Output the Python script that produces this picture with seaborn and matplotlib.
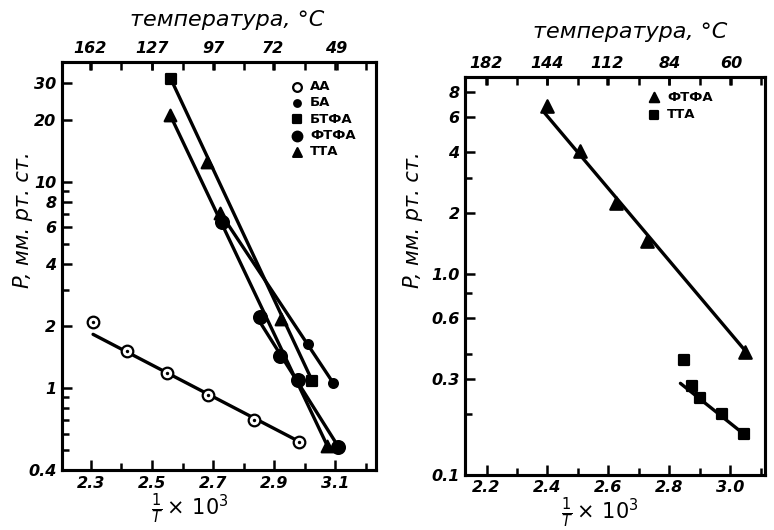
import matplotlib
matplotlib.use("Agg")
import matplotlib.pyplot as plt
import seaborn as sns
import pandas as pd
from matplotlib.ticker import NullFormatter

# ---- left panel: points (x = 1/T * 10^3, P in mm Hg)
aa_x = [2.307, 2.418, 2.549, 2.683, 2.834, 2.982]
aa_p = [2.08, 1.51, 1.18, 0.925, 0.70, 0.55]
ba_x = [3.011, 3.093]
ba_p = [1.63, 1.06]
btfa_x = [2.562, 3.025]
btfa_p = [31.4, 1.08]
ftfa_x = [2.729, 2.854, 2.920, 2.979, 3.110]
ftfa_p = [6.34, 2.20, 1.43, 1.09, 0.52]
tta_x = [2.559, 2.680, 2.723, 2.923, 3.074]
tta_p = [21.1, 12.5, 7.08, 2.15, 0.525]

# straight lines drawn through the points (end points)
aa_fit_x, aa_fit_p = [2.307, 2.982], [1.82, 0.55]
ba_fit_x, ba_fit_p = [2.723, 3.093], [7.08, 1.06]
btfa_fit_x, btfa_fit_p = [2.562, 3.025], [31.4, 1.08]
ftfa_fit_x, ftfa_fit_p = [2.848, 3.110], [2.15, 0.52]
tta_fit_x, tta_fit_p = [2.559, 3.074], [21.1, 0.525]

# ---- right panel
r_ftfa_x = [2.400, 2.508, 2.626, 2.728, 3.049]
r_ftfa_p = [6.84, 4.07, 2.24, 1.46, 0.41]
r_tta_x = [2.849, 2.875, 2.900, 2.974, 3.043]
r_tta_p = [0.372, 0.275, 0.24, 0.20, 0.16]
r_ftfa_fit_x, r_ftfa_fit_p = [2.39, 3.045], [6.3, 0.42]
r_tta_fit_x, r_tta_fit_p = [2.836, 3.043], [0.285, 0.16]

# ---- axis labels
left_temps = [162, 127, 97, 72, 49]
right_temps = [182, 144, 112, 84, 60]
left_xticks = [2.3, 2.5, 2.7, 2.9, 3.1]
right_xticks = [2.2, 2.4, 2.6, 2.8, 3.0]
left_yticks = [0.4, 1, 2, 4, 6, 8, 10, 20, 30]
left_ylabels = ["0.4", "1", "2", "4", "6", "8", "10", "20", "30"]
right_yticks = [0.1, 0.3, 0.6, 1.0, 2, 4, 6, 8]
right_ylabels = ["0.1", "0.3", "0.6", "1.0", "2", "4", "6", "8"]

sns.set_theme(style="ticks")
plt.rcParams["font.family"] = ["DejaVu Sans"]
for key in ["text.color", "axes.labelcolor", "xtick.color", "ytick.color",
            "axes.edgecolor"]:
    plt.rcParams[key] = "black"

fig = plt.figure(figsize=(7.74, 5.30), dpi=100)
ax1 = fig.add_axes([0.080, 0.113, 0.406, 0.770])
ax2 = fig.add_axes([0.601, 0.104, 0.388, 0.751])

tick_font = dict(fontstyle="italic", fontweight="bold", fontsize=11.5)


def draw_line(ax, xs, ps):
    sns.lineplot(x=xs, y=ps, ax=ax, color="black", lw=2.4, sort=False)


def draw_points(ax, xs, ps, label, marker, size, face="black"):
    df = pd.DataFrame({"x": xs, "p": ps})
    sns.scatterplot(data=df, x="x", y="p", ax=ax, marker=marker, s=size,
                    color=face, edgecolor="black", linewidth=1.6,
                    label=label, zorder=3)


def style_axes(ax, xlim, ylim, xticks, temps, yticks, ylabels, yminor):
    ax.set_yscale("log")
    ax.set_xlim(*xlim)
    ax.set_ylim(*ylim)
    ax.set_xticks(xticks, labels=[f"{v:.1f}" for v in xticks], **tick_font)
    minor_x = [round(v + 0.1, 1) for v in xticks]
    ax.set_xticks(minor_x, minor=True)
    ax.set_yticks(yticks, labels=ylabels, **tick_font)
    ax.set_yticks(yminor, minor=True)
    ax.yaxis.set_minor_formatter(NullFormatter())
    ax.tick_params(which="both", direction="in", width=1.8, colors="black")
    ax.tick_params(which="major", length=7, pad=4)
    ax.tick_params(which="minor", length=5)
    for sp in ax.spines.values():
        sp.set_linewidth(2.2)
        sp.set_color("black")
    ax.set_xlabel("")
    ax.set_ylabel("")

    top = ax.twiny()
    top.set_xlim(*xlim)
    temp_pos = [1000.0 / (t + 273.15) for t in temps]
    top.set_xticks(temp_pos, labels=[str(t) for t in temps], **tick_font)
    top.set_xticks(xticks + minor_x, minor=True)
    top.tick_params(which="both", direction="in", width=1.8, length=6,
                    pad=4, colors="black")
    for sp in top.spines.values():
        sp.set_linewidth(2.2)
        sp.set_color("black")


# left panel
draw_line(ax1, aa_fit_x, aa_fit_p)
draw_line(ax1, ba_fit_x, ba_fit_p)
draw_line(ax1, btfa_fit_x, btfa_fit_p)
draw_line(ax1, ftfa_fit_x, ftfa_fit_p)
draw_line(ax1, tta_fit_x, tta_fit_p)
draw_points(ax1, aa_x, aa_p, "АА", "o", 70, face="white")
sns.scatterplot(x=aa_x, y=aa_p, ax=ax1, marker="o", s=6, color="black",
                linewidth=0, zorder=4)
draw_points(ax1, ba_x, ba_p, "БА", "o", 40)
draw_points(ax1, btfa_x, btfa_p, "БТФА", "s", 60)
draw_points(ax1, ftfa_x, ftfa_p, "ФТФА", "o", 85)
draw_points(ax1, tta_x, tta_p, "ТТА", "^", 70)
style_axes(ax1, (2.205, 3.234), (0.4, 38), left_xticks, left_temps,
           left_yticks, left_ylabels, [0.5, 0.6, 0.7, 0.8, 0.9, 3, 5, 7, 9])
ax1.legend(loc="upper right", bbox_to_anchor=(0.96, 0.975), frameon=False,
           handletextpad=0.0, labelspacing=0.25, markerscale=0.75,
           borderaxespad=0.2, prop=dict(weight="bold", size=9.5))

# right panel
draw_line(ax2, r_ftfa_fit_x, r_ftfa_fit_p)
draw_line(ax2, r_tta_fit_x, r_tta_fit_p)
draw_points(ax2, r_ftfa_x, r_ftfa_p, "ФТФА", "^", 80)
draw_points(ax2, r_tta_x, r_tta_p, "ТТА", "s", 60)
style_axes(ax2, (2.13, 3.115), (0.1, 9.5), right_xticks, right_temps,
           right_yticks, right_ylabels, [0.2, 0.4, 0.8, 3])
ax2.legend(loc="upper right", bbox_to_anchor=(0.85, 0.985), frameon=False,
           handletextpad=0.0, labelspacing=0.35, markerscale=0.75,
           borderaxespad=0.2, prop=dict(weight="bold", size=9.5))

# axis titles
fig.text(0.294, 0.962, "температура, °С", ha="center", va="center",
         fontsize=16, fontstyle="italic")
fig.text(0.814, 0.940, "температура, °С", ha="center", va="center",
         fontsize=16, fontstyle="italic")
fig.text(0.030, 0.585, "P, мм. рт. ст.", rotation=90, ha="center",
         va="center", fontsize=15, fontstyle="italic")
fig.text(0.534, 0.585, "P, мм. рт. ст.", rotation=90, ha="center",
         va="center", fontsize=15, fontstyle="italic")
fig.text(0.245, 0.040, r"$\frac{1}{T}\times\,10^3$", ha="center",
         va="center", fontsize=15)
fig.text(0.775, 0.032, r"$\frac{1}{T}\times\,10^3$", ha="center",
         va="center", fontsize=15)

fig.savefig("out.png", dpi=100)
